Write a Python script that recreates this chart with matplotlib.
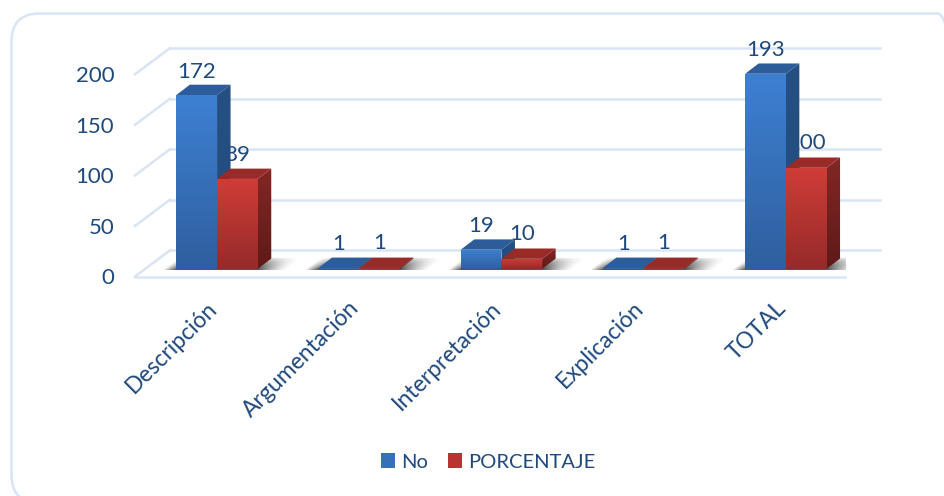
import numpy as np
from matplotlib import pyplot as plt
from matplotlib.colors import LinearSegmentedColormap
from matplotlib.patches import FancyBboxPatch, Patch, Polygon
from matplotlib.transforms import ScaledTranslation

categorias = ["Descripción", "Argumentación", "Interpretación", "Explicación", "TOTAL"]
no_vals = [172, 1, 19, 1, 193]
porcentaje_vals = [89, 1, 10, 1, 100]
y_ticks = [0, 50, 100, 150, 200]

TXT = "#1f497d"
GRID = "#d9e5f5"
W, H = 945, 496

plt.rcParams["font.family"] = ["Lato", "DejaVu Sans"]

fig = plt.figure(figsize=(W / 100, H / 100), dpi=100, facecolor="white")
fig.patches.append(FancyBboxPatch((11.5, -7), 954, 489.5, boxstyle="round,pad=0,rounding_size=28",
                                  fc="none", ec=GRID, lw=1.8, transform=None, figure=fig))

# el plano frontal va de x=135 a x=845
ax = fig.add_axes([135 / W, (H - 276.5) / H, 710 / W, 228.5 / H])
ax.patch.set_visible(False)
xmin, xmax = -0.577, 4.416
ymin, ymax = 0, 226

# profundidad en unidades de datos
px_x = (xmax - xmin) / 710
px_y = (ymax - ymin) / 228.5
wall_dx, wall_dy = 35 * px_x, 26.2 * px_y
base = 7.6 * px_y
bar_w = 40.7 * px_x
bar_dx, bar_dy = 13.5 * px_x, 10.3 * px_y


def grad(pts, top, bottom, z):
    # relleno con degradado vertical recortado a un poligono
    pts = np.array(pts)
    cm = LinearSegmentedColormap.from_list("g", [bottom, top])
    im = ax.imshow(np.linspace(1, 0, 64).reshape(-1, 1), cmap=cm, aspect="auto", zorder=z,
                   extent=[pts[:, 0].min(), pts[:, 0].max(), pts[:, 1].min(), pts[:, 1].max()])
    im.set_clip_path(Polygon(pts, transform=ax.transData))


def sombra(x0, x1, y0):
    # sombra difusa en el suelo
    fade = 13 * px_x
    xs = np.linspace(x0 - fade * 1.4, x1 + bar_dx + fade * 3, 200)
    rows = np.linspace(1, 0, 16)
    a = np.zeros((len(rows), len(xs), 4))
    a[..., :3] = 0.25
    for i, r in enumerate(rows):
        sh = r * bar_dx * 1.2
        left = np.clip((xs - (x0 - fade + sh)) / fade, 0, 1) ** 0.9
        right = np.clip(((x1 + fade * 2.2 + sh) - xs) / (fade * 2.2), 0, 1) ** 1.4
        a[i, :, 3] = 0.9 * left * right * (1 - r) ** 0.7
    ax.imshow(a, aspect="auto", zorder=2, extent=[xs[0], xs[-1], y0 - 1 * px_y, y0 + bar_dy * 1.1])


def barra(x0, val, front, side, tapa, z):
    y0, y1 = base, base + val
    x1 = x0 + bar_w
    grad([(x1, y0), (x1 + bar_dx, y0 + bar_dy), (x1 + bar_dx, y1 + bar_dy), (x1, y1)], side[0], side[1], z)
    ax.add_patch(Polygon([(x0, y1), (x1, y1), (x1 + bar_dx, y1 + bar_dy), (x0 + bar_dx, y1 + bar_dy)],
                         fc=tapa, ec="none", zorder=z))
    grad([(x0, y0), (x1, y0), (x1, y1), (x0, y1)], front[0], front[1], z + 0.5)


# lineas de fondo y pared lateral
for t in y_ticks:
    ax.plot([xmin + wall_dx, xmax + wall_dx], [t + wall_dy, t + wall_dy], color=GRID, lw=1.8, zorder=1, clip_on=False)
    ax.plot([xmin, xmin + wall_dx], [t, t + wall_dy], color=GRID, lw=1.8, zorder=1, clip_on=False)

for i in range(len(categorias)):
    sombra(i - bar_w, i + bar_w, base)
    barra(i - bar_w, no_vals[i], ("#3d80d2", "#2f5f9f"), ("#264f82", "#254d7e"), "#2c5c99", 4)
    barra(i, porcentaje_vals[i], ("#d03c38", "#952b29"), ("#822725", "#5e1a18"), "#982b28", 6)
    # la etiqueta roja queda detras de la barra azul
    ax.text(i - bar_w / 2, no_vals[i] + 31 * px_y, str(no_vals[i]), ha="center", va="center",
            color=TXT, fontsize=16, zorder=8, clip_on=False)
    ax.text(i + bar_w / 2, porcentaje_vals[i] + 32 * px_y, str(porcentaje_vals[i]), ha="center", va="center",
            color=TXT, fontsize=16, zorder=3, clip_on=False)

ax.set_xlim(xmin, xmax)
ax.set_ylim(ymin, ymax)
ax.set_yticks(y_ticks)
ax.set_xticks(range(len(categorias)))
ax.set_xticklabels(categorias, rotation=45, ha="right", va="top", rotation_mode="anchor")
ax.tick_params(axis="y", length=0, pad=15, labelsize=16, labelcolor=TXT)
ax.tick_params(axis="x", length=0, pad=15, labelsize=16.5, labelcolor=TXT)
desplaza = ScaledTranslation(-11 / 100, 0, fig.dpi_scale_trans)
for lab in ax.get_xticklabels():
    lab.set_transform(lab.get_transform() + desplaza)
for s in ["top", "right", "left"]:
    ax.spines[s].set_visible(False)
ax.spines["bottom"].set_color(GRID)
ax.spines["bottom"].set_linewidth(1.8)

handles = [Patch(fc="#3670b8", label="No"), Patch(fc="#b93431", label="PORCENTAJE")]
fig.legend(handles=handles, loc="center", bbox_to_anchor=(488 / W, (H - 462) / H), ncol=2, frameon=False,
           fontsize=14.5, labelcolor=TXT, handlelength=0.7, handleheight=0.7, handletextpad=0.3,
           columnspacing=1.0, borderpad=0)

fig.savefig("out.png", dpi=100)
